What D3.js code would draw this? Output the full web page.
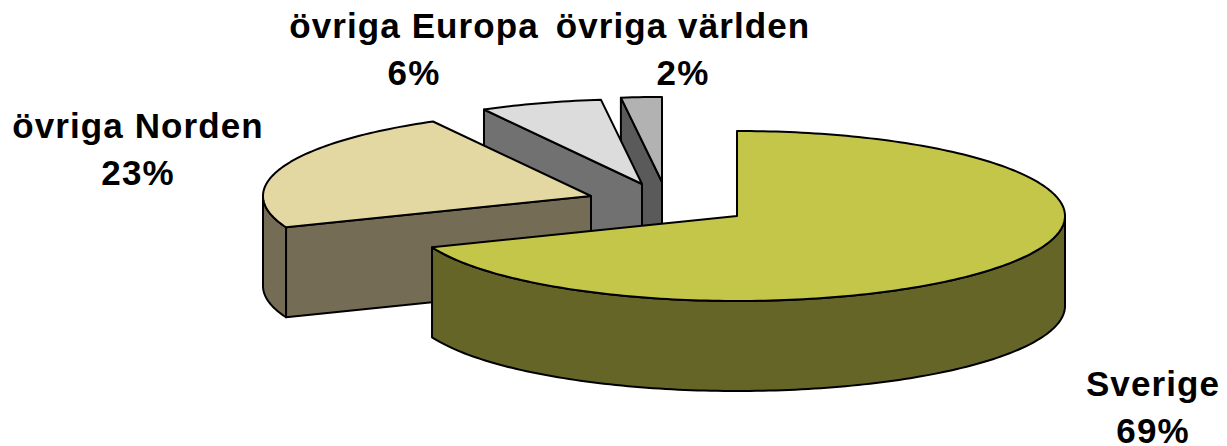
<!DOCTYPE html>
<html><head><meta charset="utf-8">
<script src="https://cdn.jsdelivr.net/npm/d3@7"></script>
<style>html,body{margin:0;padding:0;background:#fff;overflow:hidden}
text{font-family:"Liberation Sans",Arial,sans-serif;font-weight:700;font-size:35px;letter-spacing:1.1px;fill:#000;text-anchor:middle}</style>
</head><body><svg id="c" width="1227" height="446"></svg>
<script>
const categories = ["Sverige", "övriga Norden", "övriga Europa", "övriga världen"];
const shares = [69, 23, 6, 2];
const shareLabels = ["69%", "23%", "6%", "2%"];
const topColors = ["#c4c64a", "#e3d8a2", "#dcdcdc", "#b2b2b2"];
const wallColors = ["#666528", "#746c55", "#717171", "#5a5a5a"];
// layout: exploded slice centres and label anchors
const centresX = [737, 591, 642, 662], centresY = [216, 196, 184, 182];
const labelX = [1153, 138, 414, 683], labelY = [396, 138, 38, 38];
const RX = 328, RY = 85, DEPTH = 90, LINE_GAP = 47;

const svg = d3.select("#c");
const arcs = d3.pie().sort(null).startAngle(0).endAngle(2 * Math.PI)(shares);
const px = d3.scaleLinear().domain([-1, 1]).range([-RX, RX]);
const py = d3.scaleLinear().domain([-1, 1]).range([-RY, RY]);
const pt = (i, a, dz = 0) => [centresX[i] + px(Math.sin(a)), centresY[i] + py(-Math.cos(a)) + dz];
const samples = (a0, a1) => {
  const n = Math.max(2, Math.ceil((a1 - a0) / 0.02));
  return d3.range(n + 1).map(k => a0 + (a1 - a0) * k / n);
};
const line = d3.line();
const draw = (pts, fill) => svg.append("path").attr("d", line(pts) + "Z")
  .attr("fill", fill).attr("stroke", "#000").attr("stroke-width", 2).attr("stroke-linejoin", "round");

// back to front
[3, 2, 1, 0].forEach(i => {
  const { startAngle: s, endAngle: e } = arcs[i];
  const C = [centresX[i], centresY[i]], Cb = [C[0], C[1] + DEPTH];
  // cut face on the start edge
  if (Math.sin(s) < -1e-6) {
    draw([pt(i, s), C, Cb, pt(i, s, DEPTH)], wallColors[i]);
  }
  // outer rim, the part facing the viewer
  const a0 = Math.max(s, Math.PI / 2), a1 = Math.min(e, 3 * Math.PI / 2);
  if (a1 > a0) {
    const t = samples(a0, a1);
    draw([...t.map(a => pt(i, a)), ...t.slice().reverse().map(a => pt(i, a, DEPTH))], wallColors[i]);
  }
  // top
  draw([C, ...samples(s, e).map(a => pt(i, a))], topColors[i]);
});

categories.forEach((c, i) => {
  svg.append("text").attr("x", labelX[i]).attr("y", labelY[i]).text(c);
  svg.append("text").attr("x", labelX[i]).attr("y", labelY[i] + LINE_GAP).text(shareLabels[i]);
});
</script></body></html>
